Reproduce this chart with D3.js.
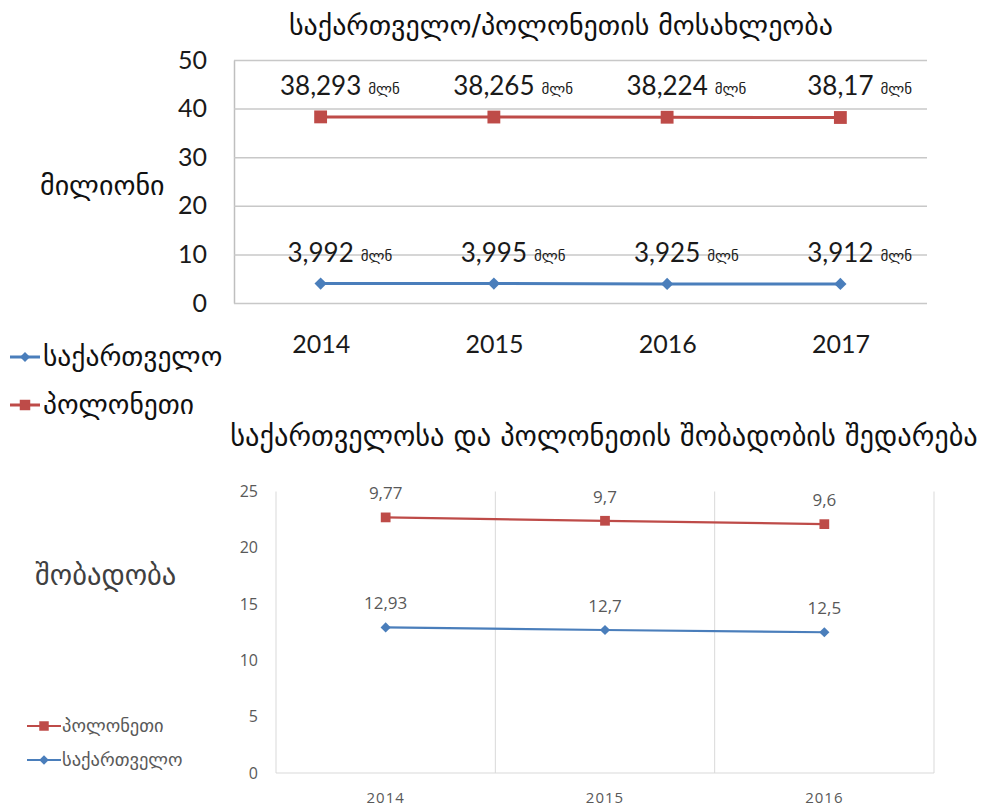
<!DOCTYPE html>
<html>
<head>
<meta charset="utf-8">
<script src="https://cdn.jsdelivr.net/npm/d3@7"></script>
<style>
  html, body { margin: 0; padding: 0; background: #fff; }
  svg { display: block; }
  .geo { font-family: "DejaVu Sans", sans-serif; }
  .num { font-family: Lato, "Open Sans", sans-serif; }
  .num2 { font-family: "Open Sans", Lato, sans-serif; }
</style>
</head>
<body>
<svg id="chart" width="982" height="807"></svg>
<script>
// ---- population (millions) ----
const popYears = ["2014", "2015", "2016", "2017"];
const popGeorgia = [3.992, 3.995, 3.925, 3.912];
const popPoland = [38.293, 38.265, 38.224, 38.17];
const popTicks = [0, 10, 20, 30, 40, 50];

// ---- birth rate (per 1000) ----
const birthYears = ["2014", "2015", "2016"];
const birthGeorgia = [12.93, 12.7, 12.5];
const birthPoland = [9.77, 9.7, 9.6];
const birthTicks = [0, 5, 10, 15, 20, 25];

const seriesNames = { georgia: "საქართველო", poland: "პოლონეთი" };
const BLUE = "#4a7ebb", RED = "#be4b48";

const loc = d3.formatLocale({ decimal: ",", thousands: " ", grouping: [3], currency: ["", ""] });
const fmtPop = loc.format(".5~r");
const fmtBirth = loc.format(".4~r");

const svg = d3.select("#chart");
svg.append("rect").attr("width", 982).attr("height", 807).attr("fill", "#fff");

// marker shapes: a square, and the same square turned 45 degrees for the diamond
const square = d3.symbol().type(d3.symbolSquare);
function place(sel, kind) {
  return sel.attr("transform", d => `translate(${d.x},${d.y})` + (kind === "diamond" ? " rotate(45)" : ""));
}

// ================= Population chart =================
(function () {
  const x = d3.scalePoint().domain(popYears).range([234, 927]).padding(0.5);
  const y = d3.scaleLinear().domain([0, 50]).range([303, 60]);

  svg.append("text").attr("class", "geo")
    .attr("x", 561).attr("y", 35).attr("text-anchor", "middle")
    .attr("font-size", 28).attr("fill", "#111")
    .text("საქართველო/პოლონეთის მოსახლეობა");

  const yAxis = svg.append("g").attr("transform", "translate(234,0)")
    .call(d3.axisLeft(y).tickValues(popTicks).tickSizeInner(-693).tickSizeOuter(0).tickPadding(27));
  yAxis.select(".domain").attr("stroke", "#bfbfbf").attr("stroke-width", 1.5);
  yAxis.selectAll(".tick line").attr("stroke", "#c8c8c8").attr("stroke-width", 1.5);
  yAxis.selectAll(".tick text").attr("class", "num").attr("font-size", 25).attr("fill", "#1a1a1a");

  const xAxis = svg.append("g").attr("transform", "translate(0,303)")
    .call(d3.axisBottom(x).tickSize(0).tickPadding(32));
  xAxis.select(".domain").remove();
  xAxis.selectAll(".tick text").attr("class", "num").attr("font-size", 25).attr("fill", "#1a1a1a");

  svg.append("text").attr("class", "geo")
    .attr("x", 40).attr("y", 195).attr("font-size", 28).attr("fill", "#111")
    .text("მილიონი");

  const series = [
    { key: "georgia", values: popGeorgia, color: BLUE, kind: "diamond", size: 75 },
    { key: "poland", values: popPoland, color: RED, kind: "square", size: 165 }
  ];
  const line = d3.line().x((d, i) => x(popYears[i])).y(d => y(d));

  series.forEach(s => {
    svg.append("path").attr("d", line(s.values))
      .attr("fill", "none").attr("stroke", s.color).attr("stroke-width", 3);
    const pts = s.values.map((v, i) => ({ x: x(popYears[i]), y: y(v) }));
    place(svg.selectAll(null).data(pts).enter().append("path")
      .attr("d", square.size(s.size)()).attr("fill", s.color), s.kind);
    s.values.forEach((v, i) => {
      const cx = x(popYears[i]), cy = y(v) - 22;
      const t = svg.append("text").attr("class", "num")
        .attr("x", cx).attr("y", cy).attr("text-anchor", "middle")
        .attr("font-size", 26).attr("fill", "#1a1a1a").text(fmtPop(v));
      const w = t.node().getComputedTextLength();
      svg.append("text").attr("class", "geo")
        .attr("x", cx + w / 2 + 7).attr("y", cy - 1)
        .attr("font-size", 15).attr("fill", "#1a1a1a").text("მლნ");
    });
  });

  // legend
  const lg = [
    { name: seriesNames.georgia, color: BLUE, kind: "diamond", size: 50, y: 357 },
    { name: seriesNames.poland, color: RED, kind: "square", size: 110, y: 405 }
  ];
  lg.forEach(l => {
    svg.append("line").attr("x1", 10).attr("x2", 40).attr("y1", l.y).attr("y2", l.y)
      .attr("stroke", l.color).attr("stroke-width", 3);
    place(svg.selectAll(null).data([{ x: 25, y: l.y }]).enter().append("path")
      .attr("d", square.size(l.size)()).attr("fill", l.color), l.kind);
    svg.append("text").attr("class", "geo").attr("x", 43).attr("y", l.y + 9)
      .attr("font-size", 27.5).attr("fill", "#111").text(l.name);
  });
})();

// ================= Birth-rate chart (stacked lines) =================
(function () {
  const x = d3.scaleBand().domain(birthYears).range([276, 934]);
  const y = d3.scaleLinear().domain([0, 25]).range([773, 491.5]);

  svg.append("text").attr("class", "geo")
    .attr("x", 604).attr("y", 446).attr("text-anchor", "middle")
    .attr("font-size", 28.4).attr("fill", "#111")
    .text("საქართველოსა და  პოლონეთის შობადობის შედარება");

  // vertical category separators
  const bounds = birthYears.map(d => x(d)).concat([x.range()[1]]);
  svg.selectAll(null).data(bounds).enter().append("line")
    .attr("x1", d => d).attr("x2", d => d).attr("y1", y(25)).attr("y2", y(0))
    .attr("stroke", "#d9d9d9").attr("stroke-width", 1);
  svg.append("line").attr("x1", 276).attr("x2", 934).attr("y1", y(0)).attr("y2", y(0))
    .attr("stroke", "#d9d9d9").attr("stroke-width", 1);

  const yAxis = svg.append("g").attr("transform", "translate(276,0)")
    .call(d3.axisLeft(y).tickValues(birthTicks).tickSize(0).tickPadding(18));
  yAxis.select(".domain").remove();
  yAxis.selectAll(".tick text").attr("class", "num2").attr("font-size", 16).attr("fill", "#595959");

  const xAxis = svg.append("g").attr("transform", "translate(0,773)")
    .call(d3.axisBottom(x).tickSize(0).tickPadding(19));
  xAxis.select(".domain").remove();
  xAxis.selectAll(".tick text").attr("class", "num2").attr("font-size", 15)
    .attr("letter-spacing", 1).attr("fill", "#595959");

  svg.append("text").attr("class", "geo")
    .attr("x", 35).attr("y", 585).attr("font-size", 28.5).attr("fill", "#404040")
    .text("შობადობა");

  // Poland's line sits on top of Georgia's (stacked series)
  const rows = birthYears.map((yr, i) => ({ year: yr, georgia: birthGeorgia[i], poland: birthPoland[i] }));
  const stacked = d3.stack().keys(["georgia", "poland"])(rows);
  const style = {
    georgia: { color: BLUE, kind: "diamond", size: 52 },
    poland: { color: RED, kind: "square", size: 95 }
  };
  const cx = d => x(d.data.year) + x.bandwidth() / 2;
  const line = d3.line().x(cx).y(d => y(d[1]));

  stacked.forEach(layer => {
    const s = style[layer.key];
    svg.append("path").attr("d", line(layer))
      .attr("fill", "none").attr("stroke", s.color).attr("stroke-width", 2.2);
    const pts = layer.map(d => ({ x: cx(d), y: y(d[1]) }));
    place(svg.selectAll(null).data(pts).enter().append("path")
      .attr("d", square.size(s.size)()).attr("fill", s.color), s.kind);
    svg.selectAll(null).data(layer).enter().append("text")
      .attr("class", "num2")
      .attr("x", cx).attr("y", d => y(d[1]) - 18).attr("text-anchor", "middle")
      .attr("font-size", 17).attr("fill", "#595959")
      .text(d => fmtBirth(d.data[layer.key]));
  });

  // legend
  const lg = [
    { name: seriesNames.poland, color: RED, kind: "square", size: 90, y: 726 },
    { name: seriesNames.georgia, color: BLUE, kind: "diamond", size: 45, y: 760 }
  ];
  lg.forEach(l => {
    svg.append("line").attr("x1", 27).attr("x2", 61).attr("y1", l.y).attr("y2", l.y)
      .attr("stroke", l.color).attr("stroke-width", 2);
    place(svg.selectAll(null).data([{ x: 44, y: l.y }]).enter().append("path")
      .attr("d", square.size(l.size)()).attr("fill", l.color), l.kind);
    svg.append("text").attr("class", "geo").attr("x", 62).attr("y", l.y + 6)
      .attr("font-size", 18.5).attr("fill", "#595959").text(l.name);
  });
})();
</script>
</body>
</html>
